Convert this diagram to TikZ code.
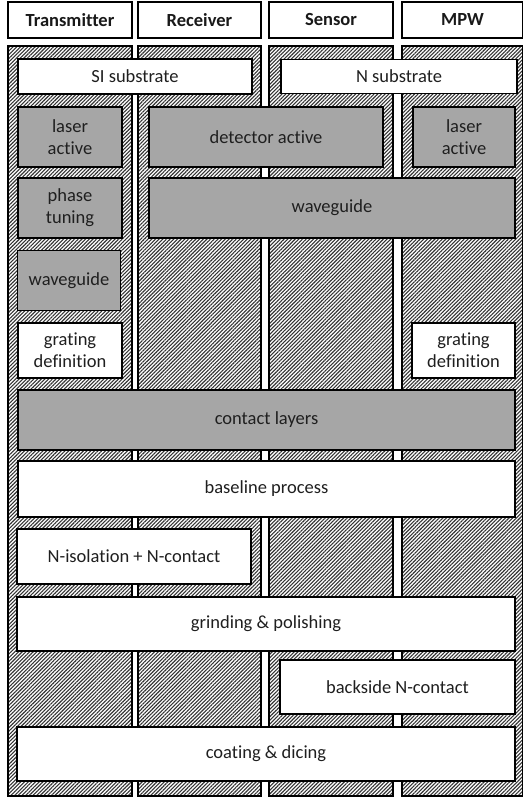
\documentclass[tikz,border=0pt]{standalone}
\usepackage{fontspec}
\setmainfont{Carlito}[Ligatures=NoCommon]
\usetikzlibrary{patterns.meta}
\tikzset{>=stealth}
\tikzset{
  head/.style={draw, line width=1.8pt, fill=white, minimum height=36, inner sep=0pt,
    font=\bfseries\fontsize{18.5}{20}\selectfont, text=black!90},
  lane/.style={draw, line width=2.2pt, preaction={fill=white},
    pattern={Lines[angle=45,distance=2.6pt,line width=1.1pt]}, pattern color=black!80,
    minimum height=750, inner sep=0pt},
  stepbox/.style={draw, line width=1.6pt, align=center, inner sep=0pt,
    font=\fontsize{18.5}{22}\selectfont, text=black!88},
  grey/.style={stepbox, fill=black!35},
  plain/.style={stepbox, fill=white}
}

\begin{document}
\begin{tikzpicture}[x=1pt, y=-1pt]
\useasboundingbox (0,0) rectangle (522,799);
% headers
\node[head, minimum width=124] (tx) at (70,20) {Transmitter};
\node[head, minimum width=123] (rx) at (199.5,20) {Receiver};
\node[head, minimum width=124] (sens) at (331,20) {Sensor};
\node[head, minimum width=121] (mpw) at (462.5,20) {MPW};
% lanes
\node[lane, minimum width=124] (txlane) at (70,421) {};
\node[lane, minimum width=123] (rxlane) at (199.5,421) {};
\node[lane, minimum width=124] (senslane) at (331,421) {};
\node[lane, minimum width=121] (mpwlane) at (462.5,421) {};
% substrates
\node[plain, minimum width=234, minimum height=35] (sisub) at (135,76.5) {SI substrate};
\node[plain, minimum width=236, minimum height=34] (nsub) at (399,76.5) {N substrate};
% epitaxy and waveguides
\node[grey, minimum width=104, minimum height=60] (lasertx) at (70,137) {laser\\active};
\node[grey, minimum width=234, minimum height=60] (detect) at (266,137) {detector active};
\node[grey, minimum width=102, minimum height=60] (lasermpw) at (464,137) {laser\\active};
\node[grey, minimum width=104, minimum height=60] (phase) at (70,208) {phase\\tuning};
\node[grey, minimum width=366, minimum height=60] (wgwide) at (332,208) {waveguide};
\node[grey, minimum width=103, minimum height=60] (wgtx) at (69,280.5) {waveguide};
\node[plain, minimum width=104, minimum height=55] (grattx) at (70,350.5) {grating\\definition};
\node[plain, minimum width=103, minimum height=55] (gratmpw) at (463.5,350.5) {grating\\definition};
% common steps
\node[grey, minimum width=497, minimum height=60] (contact) at (266.5,420) {contact layers};
\node[plain, minimum width=497, minimum height=56] (baseline) at (266.5,489) {baseline process};
\node[plain, minimum width=234, minimum height=55] (nisol) at (134,556.5) {N-isolation + N-contact};
\node[plain, minimum width=498, minimum height=54] (grind) at (266,624) {grinding \& polishing};
\node[plain, minimum width=235, minimum height=54] (backside) at (397.5,687) {backside N-contact};
\node[plain, minimum width=498, minimum height=54] (coat) at (266,754) {coating \& dicing};
\end{tikzpicture}
\end{document}
